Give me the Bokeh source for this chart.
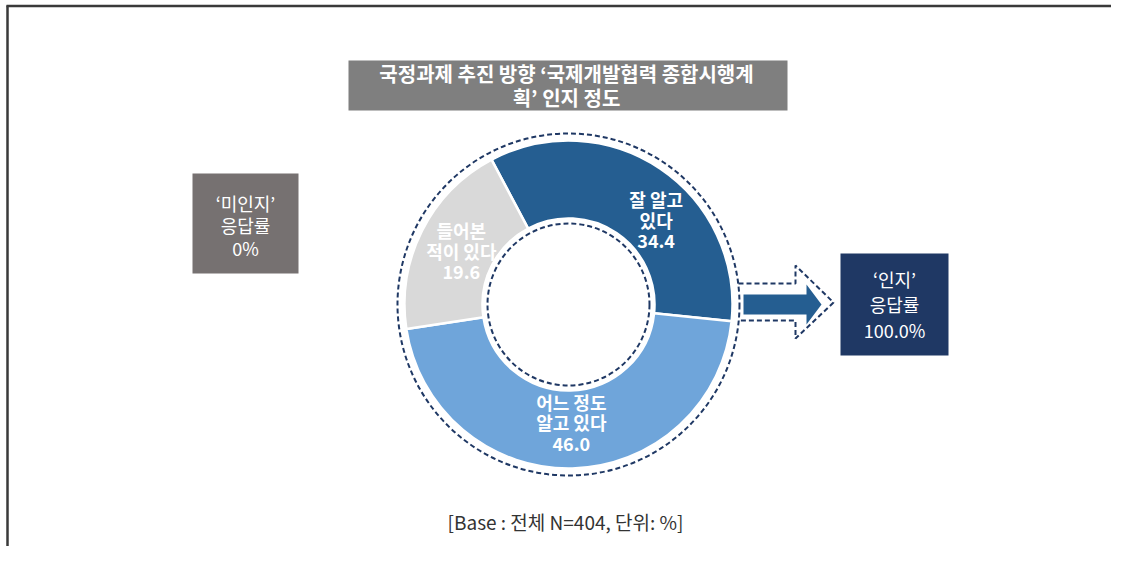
import math
from bokeh.plotting import figure
from bokeh.embed import file_html
from bokeh.resources import INLINE
from bokeh.core.properties import value

# ---- data ----
categories = ["잘 알고\n있다", "어느 정도\n알고 있다", "들어본\n적이 있다"]
values = [34.4, 46.0, 19.6]
colors = ["#255E91", "#6FA5DA", "#D9D9D9"]
title_text = "국정과제 추진 방향 ‘국제개발협력 종합시행계\n획’ 인지 정도"
aware_text = "‘인지’\n응답률\n100.0%"
unaware_text = "‘미인지’\n응답률\n0%"
footer_text = "[Base : 전체 N=404, 단위: %]"

FONT = "Noto Sans CJK KR"
W, H = 1111, 546

def Y(py):
    return H - py

p = figure(width=W, height=H, x_range=(0, W), y_range=(0, H),
           output_backend="svg", toolbar_location=None, min_border=0)
p.axis.visible = False
p.grid.visible = False
p.outline_line_color = None
p.background_fill_color = "white"

# frame lines (top and left)
p.segment(x0=[6, 7], y0=[Y(5.5), Y(5)], x1=[W, 7], y1=[Y(5.5), Y(H)],
          line_color="#3A3A3A", line_width=2.5)

# ---- donut ----
cx, cy = 568, Y(304)
r_out, r_in = 164, 86
start = math.radians(118)
total = sum(values)
starts, ends, mids = [], [], []
a = start
for v in values:
    span = 2 * math.pi * v / total
    starts.append(a)
    ends.append(a - span)
    mids.append(a - span / 2)
    a -= span

p.annular_wedge(x=[cx] * 3, y=[cy] * 3, inner_radius=r_in, outer_radius=r_out,
                start_angle=starts, end_angle=ends, direction="clock",
                fill_color=colors, line_color="white", line_width=2.5)

p.circle(x=[cx], y=[cy], radius=171, fill_color=None, line_color="#1F3864",
         line_width=2, line_dash="5 3")
p.circle(x=[cx], y=[cy], radius=81, fill_color=None, line_color="#1F3864",
         line_width=2, line_dash="5 3")

# slice labels
label_r = [122, 118, 120]
label_shift = [math.radians(-12), 0, 0]
lx = [cx + r * math.cos(m + s) for r, m, s in zip(label_r, mids, label_shift)]
ly = [cy + r * math.sin(m + s) for r, m, s in zip(label_r, mids, label_shift)]
ltxt = [f"{c}\n{v:.1f}" for c, v in zip(categories, values)]
p.text(x=lx, y=ly, text=ltxt, text_align="center", text_baseline="middle",
       text_color="white", text_font=value(FONT), text_font_style="bold",
       text_font_size="18px", text_line_height=0.8)

# ---- arrow ----
p.patch(x=[743, 806, 806, 821, 806, 806, 743],
        y=[Y(294), Y(294), Y(284), Y(304), Y(324), Y(314), Y(314)],
        fill_color="#255E91", line_color=None)
p.line(x=[738, 795, 795, 833, 795, 795, 740],
       y=[Y(283), Y(283), Y(265), Y(302), Y(338), Y(320), Y(320)],
       line_color="#1F3864", line_width=2, line_dash="5 3")

# ---- boxes ----
p.quad(left=[840], right=[948], top=[Y(253)], bottom=[Y(355)],
       fill_color="#1F3864", line_color=None)
p.text(x=[894], y=[Y(304)], text=[aware_text], text_align="center",
       text_baseline="middle", text_color="white", text_font=value(FONT),
       text_font_size="18px", text_line_height=0.98)

p.quad(left=[192], right=[298], top=[Y(173)], bottom=[Y(273)],
       fill_color="#767171", line_color=None)
p.text(x=[245], y=[Y(225)], text=[unaware_text], text_align="center",
       text_baseline="middle", text_color="white", text_font=value(FONT),
       text_font_size="18px", text_line_height=0.85)

p.quad(left=[348], right=[787], top=[Y(60)], bottom=[Y(110)],
       fill_color="#7F7F7F", line_color=None)
p.text(x=[566], y=[Y(85)], text=[title_text], text_align="center",
       text_baseline="middle", text_color="white", text_font=value(FONT),
       text_font_style="bold", text_font_size="20px", text_line_height=0.82)

# footer
p.text(x=[565], y=[Y(521)], text=[footer_text], text_align="center",
       text_baseline="middle", text_color="#333333", text_font=value(FONT),
       text_font_size="19px")

open("out.html", "w").write(file_html(p, INLINE))
